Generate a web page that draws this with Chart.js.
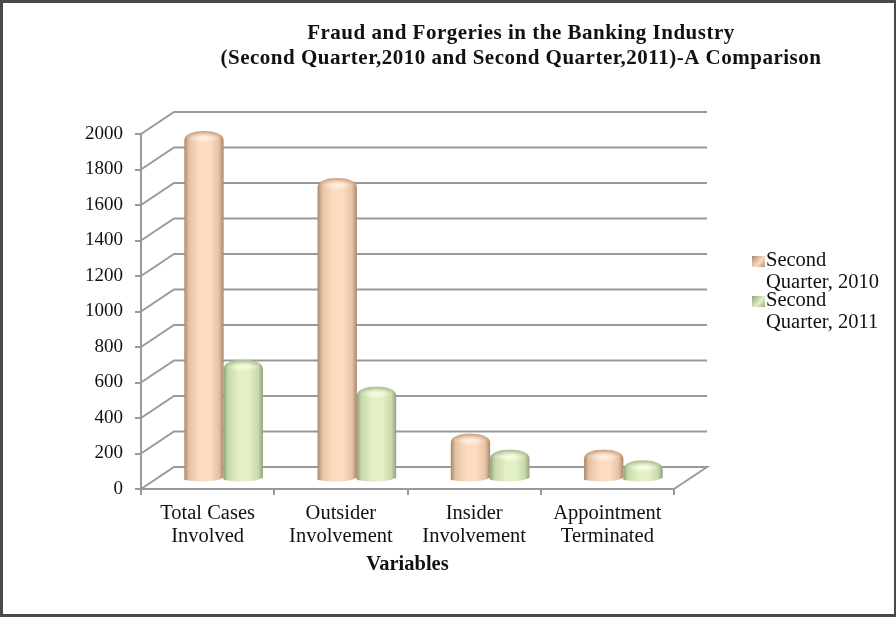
<!DOCTYPE html>
<html>
<head>
<meta charset="utf-8">
<title>Fraud and Forgeries</title>
<script src="https://cdn.jsdelivr.net/npm/chart.js@4"></script>
<style>
  html, body { margin: 0; background: #fff; }
  #box { position: relative; width: 896px; height: 617px; overflow: hidden; }
  #frame { position: absolute; inset: 0; border: solid #4a4a4a; border-width: 3px 2px 3px 3px; box-sizing: border-box; pointer-events: none; }
  canvas { filter: blur(0.5px); }
</style>
</head>
<body>
<div id="box">
  <canvas id="chart" width="896" height="617"></canvas>
  <div id="frame"></div>
</div>
<script>
const categories = [['Total Cases', 'Involved'], ['Outsider', 'Involvement'], ['Insider', 'Involvement'], ['Appointment', 'Terminated']];
const q2010 = [1933, 1668, 228, 138];
const q2011 = [644, 493, 138, 78];
const seriesNames = ['Second Quarter, 2010', 'Second Quarter, 2011'];
const legendLines = [['Second', 'Quarter, 2010'], ['Second', 'Quarter, 2011']];
const titleLines = ['Fraud and Forgeries in the Banking Industry', '(Second Quarter,2010 and Second Quarter,2011)-A Comparison'];
const xTitle = 'Variables';

const serif = '"Liberation Serif", serif';
const gridColor = '#9a9a9a';
// depth of the fake 3d box, bars stand half way in
const depthX = 33, depthY = 22;

const palette = [
  { edge: '#a9866a', mid: '#e6c2a4', light: '#fcdcc0', cap: '#fff3e4' },
  { edge: '#8fa37c', mid: '#c8d9ac', light: '#e3f0c3', cap: '#f8fde8' }
];

function drawCylinder(ctx, bar, c) {
  const half = bar.width / 2;
  const cx = bar.x + depthX / 2 - 0.5;
  const top = bar.y - depthY / 2;
  const base = bar.base - depthY / 2 + 2;

  const side = ctx.createLinearGradient(cx - half, 0, cx + half, 0);
  side.addColorStop(0, c.edge);
  side.addColorStop(0.12, c.mid);
  side.addColorStop(0.4, c.light);
  side.addColorStop(0.65, c.light);
  side.addColorStop(0.88, c.mid);
  side.addColorStop(1, c.edge);

  ctx.beginPath();
  ctx.moveTo(cx - half, base);
  ctx.lineTo(cx - half, top + 5);
  ctx.bezierCurveTo(cx - half, top - 7, cx + half, top - 7, cx + half, top + 5);
  ctx.lineTo(cx + half, base - 1);
  ctx.quadraticCurveTo(cx + half * 0.3, base + 5, cx - half, base + 1);
  ctx.closePath();
  ctx.fillStyle = side;
  ctx.fill();

  ctx.save();
  ctx.clip();
  // darker rim along the top of the cap
  const rim = ctx.createLinearGradient(0, top - 4, 0, top + 3);
  rim.addColorStop(0, c.edge + 'aa');
  rim.addColorStop(1, c.edge + '00');
  ctx.fillStyle = rim;
  ctx.fillRect(cx - half, top - 4, half * 2, 7);

  // highlight on the rounded top
  ctx.translate(cx, top + 3);
  ctx.scale(1, 0.34);
  const glow = ctx.createRadialGradient(0, 0, 0, 0, 0, half * 0.8);
  glow.addColorStop(0, c.cap);
  glow.addColorStop(1, c.cap + '00');
  ctx.fillStyle = glow;
  ctx.fillRect(-half, -half, half * 2, half * 2);
  ctx.restore();
}

const box3d = {
  id: 'box3d',
  beforeDatasetsDraw(chart) {
    const { ctx, scales: { x, y } } = chart;
    ctx.save();
    ctx.strokeStyle = gridColor;
    ctx.lineWidth = 2;
    y.ticks.forEach((t, i) => {
      const py = y.getPixelForTick(i);
      ctx.beginPath();
      ctx.moveTo(x.left, py);
      ctx.lineTo(x.left + depthX, py - depthY);
      ctx.lineTo(x.right + depthX, py - depthY);
      if (t.value === 0) ctx.lineTo(x.right, py);
      ctx.stroke();
    });
    ctx.restore();
  },
  afterDatasetsDraw(chart) {
    const { ctx } = chart;
    chart.data.datasets.forEach((ds, i) => {
      chart.getDatasetMeta(i).data.forEach(bar => {
        ctx.save();
        drawCylinder(ctx, bar, palette[i]);
        ctx.restore();
      });
    });
  }
};

const headText = {
  id: 'headText',
  afterDraw(chart) {
    const { ctx } = chart;
    ctx.save();
    ctx.fillStyle = '#111';
    ctx.textBaseline = 'middle';

    ctx.textAlign = 'center';
    ctx.font = 'bold 21px ' + serif;
    ctx.letterSpacing = '0.5px';
    titleLines.forEach((line, i) => ctx.fillText(line, 521, 34 + i * 25));
    ctx.letterSpacing = '0px';

    ctx.textAlign = 'left';
    ctx.font = '20.5px ' + serif;
    legendLines.forEach((lines, i) => {
      const top = 261 + i * 40;
      const sw = ctx.createLinearGradient(752, top - 5, 765, top + 7);
      sw.addColorStop(0, palette[i].edge);
      sw.addColorStop(0.55, palette[i].light);
      sw.addColorStop(1, palette[i].edge);
      ctx.fillStyle = sw;
      ctx.fillRect(752, top - 5, 13, 11);
      ctx.fillStyle = '#111';
      ctx.fillText(lines[0], 766, top);
      ctx.fillText(lines[1], 766, top + 22);
    });
    ctx.restore();
  }
};

new Chart(document.getElementById('chart'), {
  type: 'bar',
  data: {
    labels: categories,
    datasets: [
      { label: seriesNames[0], data: q2010, backgroundColor: 'transparent', categoryPercentage: 0.59, barPercentage: 1 },
      { label: seriesNames[1], data: q2011, backgroundColor: 'transparent', categoryPercentage: 0.59, barPercentage: 1 }
    ]
  },
  options: {
    responsive: false,
    animation: false,
    layout: { padding: { left: 0, right: 222, top: 134, bottom: 0 } },
    plugins: { legend: { display: false }, tooltip: { enabled: false } },
    scales: {
      x: {
        afterFit: s => { s.height = 128; },
        border: { color: gridColor, width: 2 },
        grid: { drawOnChartArea: false, color: gridColor, lineWidth: 2, tickLength: 6 },
        ticks: { color: '#111', padding: 7, maxRotation: 0, autoSkip: false, font: { family: serif, size: 20.5, lineHeight: 1.14 } },
        title: { display: true, text: xTitle, color: '#111', padding: { top: 0, bottom: 40 }, font: { family: serif, size: 20.5, weight: 'bold' } }
      },
      y: {
        min: 0,
        max: 2000,
        afterFit: s => { s.width = 141; },
        border: { color: gridColor, width: 2 },
        grid: { drawOnChartArea: false, color: gridColor, lineWidth: 2, tickLength: 6 },
        ticks: { stepSize: 200, color: '#111', padding: 12, callback: v => String(v), font: { family: serif, size: 19 } }
      }
    }
  },
  plugins: [box3d, headText]
});
</script>
</body>
</html>
